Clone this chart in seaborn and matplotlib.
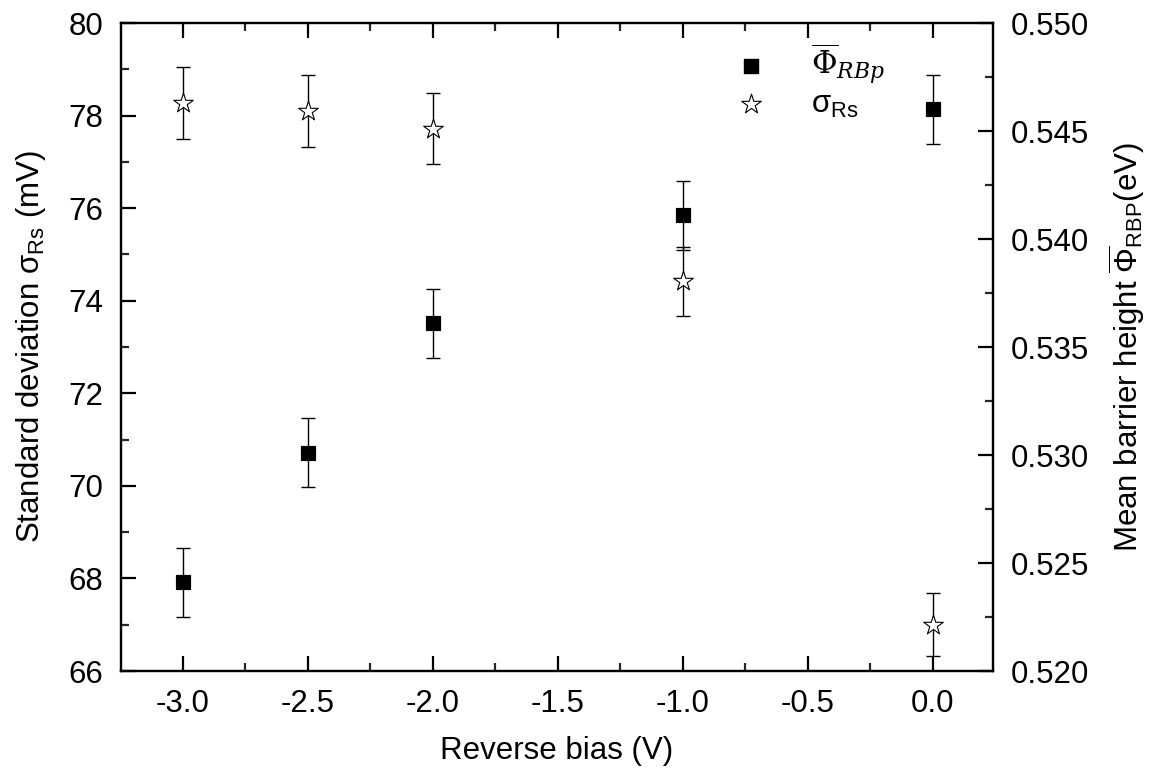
import numpy as np
import pandas as pd
import matplotlib
matplotlib.use('Agg')
import matplotlib.pyplot as plt
from matplotlib.ticker import MultipleLocator
from matplotlib.font_manager import FontProperties
import seaborn as sns

# data
bias = [-3.0, -2.5, -2.0, -1.0, 0.0]
sigma_rs = [78.27, 78.10, 77.72, 74.42, 67.00]        # mV, left axis
sigma_err = [0.78, 0.78, 0.77, 0.75, 0.68]
phi_rbp = [0.5241, 0.5301, 0.5361, 0.5411, 0.5460]    # eV, right axis
phi_err = [0.0016, 0.0016, 0.0016, 0.0016, 0.0016]

FS = 22.5

sns.set_style('ticks', {'xtick.direction': 'in', 'ytick.direction': 'in'})
plt.rcParams['font.family'] = ['Liberation Sans', 'DejaVu Sans']
plt.rcParams['mathtext.fontset'] = 'custom'
plt.rcParams['mathtext.rm'] = 'Liberation Sans'
plt.rcParams['mathtext.it'] = 'Liberation Sans:italic'
plt.rcParams['text.color'] = 'black'
plt.rcParams['axes.labelcolor'] = 'black'

df = pd.DataFrame({'bias': bias, 'sigma': sigma_rs, 'sigma_err': sigma_err,
                   'phi': phi_rbp, 'phi_err': phi_err})

fig = plt.figure(figsize=(11.62, 7.8), dpi=100)
ax = fig.add_axes([0.1041, 0.1397, 0.7504, 0.8308])
ax2 = ax.twinx()

# sigma (stars) on left axis
ax.errorbar(df['bias'], df['sigma'], yerr=df['sigma_err'], fmt='none',
            ecolor='black', elinewidth=1, capsize=5, capthick=1, zorder=2)
sns.scatterplot(data=df, x='bias', y='sigma', ax=ax, marker='*', s=220,
                facecolor='white', edgecolor='black', linewidth=0.8, zorder=3,
                legend=False)

# phi (squares) on right axis
ax2.errorbar(df['bias'], df['phi'], yerr=df['phi_err'], fmt='none',
             ecolor='black', elinewidth=1, capsize=5, capthick=1, zorder=2)
sns.scatterplot(data=df, x='bias', y='phi', ax=ax2, marker='s', s=112,
                color='black', edgecolor='black', zorder=3, legend=False)

ax.set_xlim(-3.248, 0.24)
ax.set_ylim(66, 80)
ax2.set_ylim(0.520, 0.550)

ax.xaxis.set_major_locator(MultipleLocator(0.5))
ax.xaxis.set_minor_locator(MultipleLocator(0.25))
ax.yaxis.set_major_locator(MultipleLocator(2))
ax.yaxis.set_minor_locator(MultipleLocator(1))
ax2.yaxis.set_major_locator(MultipleLocator(0.005))
ax2.yaxis.set_minor_locator(MultipleLocator(0.0025))

ax.xaxis.set_major_formatter(plt.FuncFormatter(lambda v, p: f'{v:.1f}'))
ax2.yaxis.set_major_formatter(plt.FuncFormatter(lambda v, p: f'{v:.3f}'))

for a in (ax, ax2):
    for sp in a.spines.values():
        sp.set_linewidth(1.6)
        sp.set_color('black')
    a.tick_params(which='major', length=11, width=1.6, labelsize=FS, colors='black')
    a.tick_params(which='minor', length=6, width=1.6)
ax.tick_params(axis='x', which='both', top=True, pad=13)
ax.tick_params(axis='y', pad=13)
ax2.tick_params(axis='y', pad=13)

ax.set_xlabel('Reverse bias (V)', fontsize=FS, labelpad=12)
ax.set_ylabel(r'Standard deviation σ$_{\rm Rs}$ (mV)', fontsize=FS, labelpad=14)
ax2.set_ylabel(r'Mean barrier height $\overline{\Phi}_{\rm RBP}$(eV)', fontsize=FS, labelpad=12)

# legend drawn as marker + text
h1 = ax.scatter([], [], marker='s', s=112, color='black')
h2 = ax.scatter([], [], marker='*', s=220, facecolor='white', edgecolor='black', linewidth=0.8)
leg = ax.legend([h1, h2], [r'$\overline{\Phi}_{RBp}$', r'σ$_{\rm Rs}$'],
                loc='upper left', bbox_to_anchor=(0.655, 1.015), frameon=False,
                fontsize=FS, handletextpad=0.9, labelspacing=0.1)
leg.get_texts()[0].set_fontproperties(FontProperties(size=FS, math_fontfamily='dejavuserif'))

fig.savefig('out.png', dpi=100)
